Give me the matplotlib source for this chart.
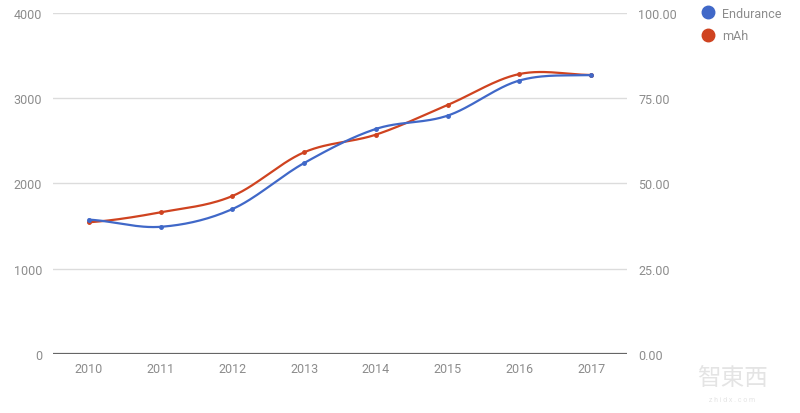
import numpy as np
import matplotlib
matplotlib.use("Agg")
import matplotlib.pyplot as plt
from matplotlib.lines import Line2D

years = ["2010", "2011", "2012", "2013", "2014", "2015", "2016", "2017"]
endurance = [39.4, 37.3, 42.5, 56.0, 66.0, 69.9, 80.2, 81.8]      # right axis
mah = [1545, 1662, 1853, 2366, 2573, 2921, 3284, 3273]            # left axis
left_ticks = [0, 1000, 2000, 3000, 4000]
right_ticks = [0, 25, 50, 75, 100]

plt.rcParams["font.family"] = ["Roboto", "DejaVu Sans"]

BLUE = "#4068c8"
RED = "#cf4320"
GRID = "#dcdcdc"
TXT = "#8c8c8c"


def smooth(x, y, n=30, t=0.5):
    """Catmull-Rom style curve through the points (visual smoothing only)."""
    x = np.asarray(x, float)
    y = np.asarray(y, float)
    xs, ys = [], []
    for i in range(len(x) - 1):
        p0 = y[i - 1] if i > 0 else y[i]
        p3 = y[i + 2] if i + 2 < len(y) else y[i + 1]
        p1, p2 = y[i], y[i + 1]
        m1 = t * (p2 - p0) if i > 0 else (p2 - p1) * 0.5
        m2 = t * (p3 - p1) if i + 2 < len(y) else (p2 - p1) * 0.5
        s = np.linspace(0, 1, n)
        h00 = 2 * s**3 - 3 * s**2 + 1
        h10 = s**3 - 2 * s**2 + s
        h01 = -2 * s**3 + 3 * s**2
        h11 = s**3 - s**2
        xs.append(x[i] + s * (x[i + 1] - x[i]))
        ys.append(h00 * p1 + h10 * m1 + h01 * p2 + h11 * m2)
    return np.concatenate(xs), np.concatenate(ys)


fig = plt.figure(figsize=(8, 4.14), dpi=100)
ax = fig.add_axes([0.06625, 0.1425, 0.7175, 0.8237])
ax2 = ax.twinx()

xi = np.arange(len(years))

ax.set_xlim(-0.5, len(years) - 0.5)
ax.set_ylim(0, 4000)
ax2.set_ylim(0, 100)

for yv in left_ticks[1:]:
    ax.axhline(yv, color=GRID, lw=1, zorder=0)
ax.axhline(0, color="#666666", lw=1.6, zorder=3)

sx, sy = smooth(xi, mah)
ax.plot(sx, sy, color=RED, lw=1.6, zorder=4)
ax.plot(xi, mah, "o", color=RED, ms=2.5, zorder=5)

ex, ey = smooth(xi, endurance)
ax2.plot(ex, ey, color=BLUE, lw=1.6, zorder=4)
ax2.plot(xi, endurance, "o", color=BLUE, ms=2.5, zorder=5)

ax.set_xticks(xi)
ax.set_xticklabels(years)
ax.set_yticks(left_ticks)
ax.set_yticklabels([str(v) for v in left_ticks])
ax2.set_yticks(right_ticks)
ax2.set_yticklabels([f"{v:.2f}" for v in right_ticks])

for a in (ax, ax2):
    for s in a.spines.values():
        s.set_visible(False)
    a.tick_params(length=0, colors=TXT, labelsize=9)
ax.tick_params(axis="x", pad=6)
ax.tick_params(axis="y", pad=8)
ax2.tick_params(axis="y", pad=8)

handles = [
    Line2D([], [], marker="o", ls="", color=BLUE, ms=9),
    Line2D([], [], marker="o", ls="", color=RED, ms=9),
]
fig.legend(handles, ["Endurance", "mAh"], loc="upper left",
           bbox_to_anchor=(0.868, 1.0), frameon=False, fontsize=9,
           labelcolor=TXT, handletextpad=0.6, labelspacing=0.75,
           borderaxespad=0.2, handlelength=1.0)

fig.text(0.915, 0.085, "智東西", family=["Noto Sans CJK TC", "DejaVu Sans"],
         fontsize=17, color="#e4e4e4", ha="center", va="center")
fig.text(0.915, 0.032, "z h i d x . c o m", fontsize=5, color="#e4e4e4",
         ha="center", va="center")

fig.savefig("out.png", dpi=100, facecolor="white")
